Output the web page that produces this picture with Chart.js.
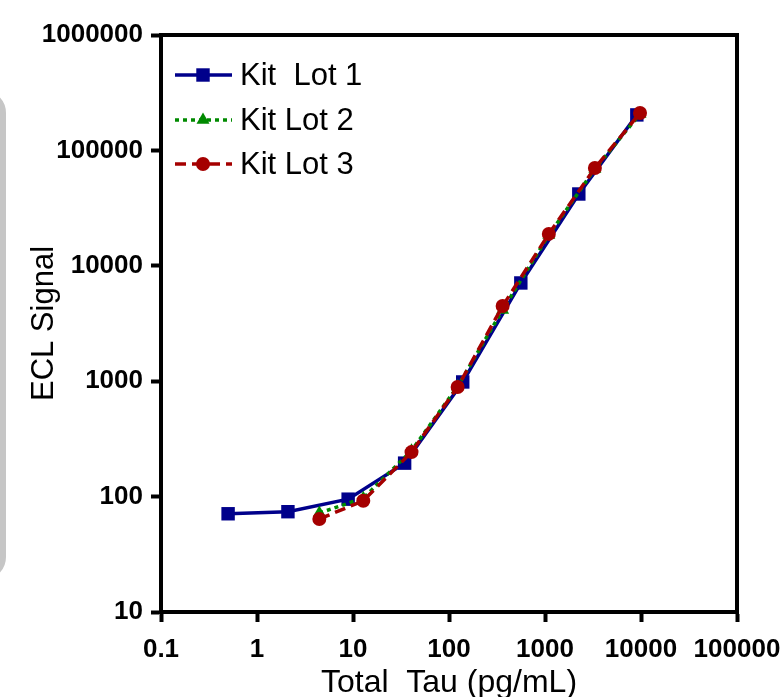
<!DOCTYPE html>
<html>
<head>
<meta charset="utf-8">
<script src="https://cdn.jsdelivr.net/npm/chart.js@4/dist/chart.umd.min.js"></script>
<style>
  html, body { margin: 0; padding: 0; background: #fff; overflow: hidden; }
  #wrap { position: relative; width: 782px; height: 697px; }
  #deco { position: absolute; left: -40px; top: 90px; width: 46px; height: 490px;
          box-sizing: border-box; border: 6px solid #c6c6c6; border-radius: 30px; }
  canvas { position: absolute; left: 0; top: 0; }
</style>
</head>
<body>
<div id="wrap">
  <div id="deco"></div>
  <canvas id="c" width="782" height="697"></canvas>
</div>
<script>
// ---- data ----
const seriesLabels = ['Kit  Lot 1', 'Kit Lot 2', 'Kit Lot 3'];
const xLot1 = [0.5, 2.1, 8.9, 34.5, 139, 560, 2250, 9050];
const yLot1 = [71, 74, 95, 195, 985, 7100, 41900, 203000];
const xLot2 = [4.46, 12.8, 40.7, 123, 362, 1096, 3310, 9770];
const yLot2 = [72, 97, 250, 900, 4150, 18500, 69000, 207000];
const xLot3 = [4.46, 12.8, 40.7, 123, 362, 1096, 3310, 9770];
const yLot3 = [64, 92, 243, 890, 4480, 18900, 70300, 211000];
const xTicks = [0.1, 1, 10, 100, 1000, 10000, 100000];
const yTicks = [10, 100, 1000, 10000, 100000, 1000000];
const xTitle = 'Total  Tau (pg/mL)';
const yTitle = 'ECL Signal';

const FONT = '"Liberation Sans", Arial, Helvetica, sans-serif';

function pts(xs, ys) { return xs.map((x, i) => ({ x: x, y: ys[i] })); }

const framePlugin = {
  id: 'frame',
  afterDatasetsDraw(chart) {
    const { ctx, chartArea: a } = chart;
    ctx.save();
    ctx.strokeStyle = '#000';
    ctx.lineWidth = 4;
    ctx.lineCap = 'square';
    ctx.beginPath();
    ctx.moveTo(a.left, a.top);
    ctx.lineTo(a.right, a.top);
    ctx.lineTo(a.right, a.bottom);
    ctx.stroke();
    ctx.restore();
  }
};

const legendPlugin = {
  id: 'lineLegend',
  afterDraw(chart) {
    const ctx = chart.ctx;
    const rows = [75, 120, 164];
    const x0 = 175, x1 = 232, xm = 203, xt = 240;
    chart.data.datasets.forEach((ds, i) => {
      const y = rows[i];
      ctx.save();
      ctx.strokeStyle = ds.borderColor;
      ctx.lineWidth = ds.borderWidth;
      ctx.setLineDash(ds.borderDash || []);
      ctx.beginPath();
      ctx.moveTo(x0, y);
      ctx.lineTo(x1, y);
      ctx.stroke();
      ctx.setLineDash([]);
      ctx.fillStyle = ds.pointBackgroundColor;
      const r = ds.pointRadius;
      ctx.beginPath();
      if (ds.pointStyle === 'rect') {
        const s = Math.SQRT1_2 * r;
        ctx.rect(xm - s, y - s, 2 * s, 2 * s);
      } else if (ds.pointStyle === 'triangle') {
        ctx.moveTo(xm, y - r);
        ctx.lineTo(xm + r * 0.866, y + r * 0.5);
        ctx.lineTo(xm - r * 0.866, y + r * 0.5);
        ctx.closePath();
      } else {
        ctx.arc(xm, y, r, 0, Math.PI * 2);
      }
      ctx.fill();
      ctx.fillStyle = '#000';
      ctx.font = '31px ' + FONT;
      ctx.textBaseline = 'middle';
      ctx.textAlign = 'left';
      ctx.fillText(ds.label, xt, y + 1);
      ctx.restore();
    });
  }
};

function powTicks(list) {
  return function (scale) { scale.ticks = list.map(v => ({ value: v })); };
}

const tickFont = { family: FONT, size: 26, weight: 'bold' };

new Chart(document.getElementById('c'), {
  type: 'line',
  data: {
    datasets: [
      { label: seriesLabels[0], data: pts(xLot1, yLot1), borderColor: '#00008b', backgroundColor: '#00008b',
        pointBackgroundColor: '#00008b', pointBorderColor: '#00008b', borderWidth: 3.5,
        pointStyle: 'rect', pointRadius: 9.5, pointBorderWidth: 0, order: 2, tension: 0 },
      { label: seriesLabels[1], data: pts(xLot2, yLot2), borderColor: '#008a00', backgroundColor: '#008a00',
        pointBackgroundColor: '#008a00', pointBorderColor: '#008a00', borderWidth: 3.5, borderDash: [4, 4],
        pointStyle: 'triangle', pointRadius: 7.5, pointBorderWidth: 0, order: 1, tension: 0 },
      { label: seriesLabels[2], data: pts(xLot3, yLot3), borderColor: '#a50000', backgroundColor: '#a50000',
        pointBackgroundColor: '#a50000', pointBorderColor: '#a50000', borderWidth: 3.5, borderDash: [11, 6],
        pointStyle: 'circle', pointRadius: 7, pointBorderWidth: 0, order: 0, tension: 0 }
    ]
  },
  options: {
    responsive: false,
    animation: false,
    devicePixelRatio: 1,
    layout: { padding: { left: 0, top: 35, right: 45, bottom: 0 } },
    plugins: { legend: { display: false }, tooltip: { enabled: false } },
    scales: {
      x: {
        type: 'logarithmic', position: 'bottom', min: 0.1, max: 100000,
        afterBuildTicks: powTicks(xTicks),
        afterFit(s) { s.height = 85; s.paddingLeft = 0; s.paddingRight = 0; },
        grid: { drawOnChartArea: false, drawTicks: true, tickLength: 10, tickWidth: 4, tickColor: '#000' },
        border: { display: true, width: 4, color: '#000' },
        ticks: { font: tickFont, color: '#000', padding: 12, maxRotation: 0, autoSkip: false,
                 callback: v => String(v) },
        title: { display: true, text: xTitle, color: '#000',
                 font: { family: FONT, size: 32, lineHeight: 1 }, padding: { top: 0, bottom: -2 } }
      },
      y: {
        type: 'logarithmic', position: 'left', min: 10, max: 1000000,
        afterBuildTicks: powTicks(yTicks),
        afterFit(s) { s.width = 161; s.paddingTop = 0; s.paddingBottom = 0; },
        grid: { drawOnChartArea: false, drawTicks: true, tickLength: 10, tickWidth: 4, tickColor: '#000' },
        border: { display: true, width: 4, color: '#000' },
        ticks: { font: tickFont, color: '#000', padding: 8, autoSkip: false,
                 callback: v => String(v) },
        title: { display: true, text: yTitle, color: '#000',
                 font: { family: FONT, size: 31, lineHeight: 1 }, padding: { top: 29, bottom: 0 } }
      }
    }
  },
  plugins: [framePlugin, legendPlugin]
});
</script>
</body>
</html>
